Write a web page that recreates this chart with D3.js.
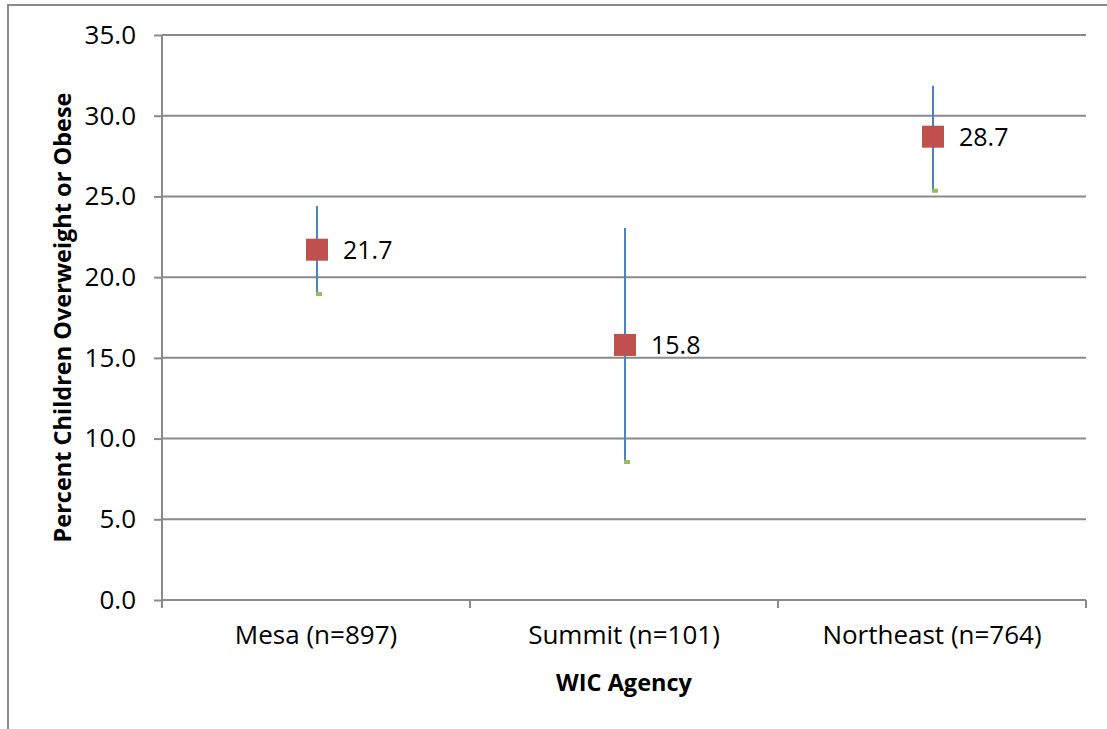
<!DOCTYPE html>
<html><head><meta charset="utf-8">
<script src="https://cdn.jsdelivr.net/npm/d3@7"></script>
<style>body{margin:0;background:#fff}svg{display:block}text{font-family:"Open Sans",sans-serif}</style>
</head><body><svg id="c" width="1107" height="729"></svg>
<script>
const categories = ["Mesa (n=897)", "Summit (n=101)", "Northeast (n=764)"];
const values = [21.7, 15.8, 28.7];
const upper = [24.4, 23.05, 31.85];
const lower = [18.95, 8.55, 25.35];
const yTicks = [0, 5, 10, 15, 20, 25, 30, 35];

const svg = d3.select("#c");
const m = {l:162, r:1086, t:35, b:600};
const x = d3.scaleBand().domain(categories).range([m.l, m.r]);
const y = d3.scaleLinear().domain([0, 35]).range([m.b, m.t]);
const grey = "#8a8a8a";

svg.append("rect").attr("x",8).attr("y",5).attr("width",1120).attr("height",760)
  .attr("fill","none").attr("stroke",grey).attr("stroke-width",2);

// gridlines
svg.append("g").selectAll("line").data(yTicks.filter(d=>d>0)).join("line")
  .attr("x1",m.l).attr("x2",m.r).attr("y1",d=>y(d)).attr("y2",d=>y(d))
  .attr("stroke",grey).attr("stroke-width",2);

// y axis
const ya = svg.append("g").attr("transform",`translate(${m.l},0)`)
  .call(d3.axisLeft(y).tickValues(yTicks).tickFormat(d3.format(".1f")).tickSize(8).tickPadding(18));
ya.select(".domain").attr("stroke",grey).attr("stroke-width",2).attr("d",`M0,${m.t}V${m.b}`);
ya.selectAll(".tick line").attr("stroke",grey).attr("stroke-width",2);
ya.selectAll("text").attr("font-size",26).attr("fill","#000").attr("font-family","Open Sans");

// x axis
const xa = svg.append("g").attr("transform",`translate(0,${m.b})`)
  .call(d3.axisBottom(x).tickSize(0).tickPadding(26));
xa.select(".domain").attr("stroke",grey).attr("stroke-width",2).attr("d",`M${m.l},0H${m.r}`);
xa.selectAll("text").attr("font-size",26).attr("fill","#000").attr("font-family","Open Sans");
const bounds = [m.l, ...categories.map(c=>x(c)+x.bandwidth())];
svg.append("g").selectAll("line").data(bounds).join("line")
  .attr("x1",d=>d).attr("x2",d=>d).attr("y1",m.b).attr("y2",m.b+8)
  .attr("stroke",grey).attr("stroke-width",2);

const cx = c => x(c) + x.bandwidth()/2 + 1;

// error bars
svg.append("g").selectAll("line").data(categories).join("line")
  .attr("x1",cx).attr("x2",cx).attr("y1",(d,i)=>y(upper[i])).attr("y2",(d,i)=>y(lower[i]))
  .attr("stroke","#4F81BD").attr("stroke-width",2);
svg.append("g").selectAll("rect").data(categories).join("rect")
  .attr("x",d=>cx(d)-1).attr("y",(d,i)=>y(lower[i])-2).attr("width",6).attr("height",4)
  .attr("fill","#9BBB59");

// markers
svg.append("g").selectAll("rect").data(categories).join("rect")
  .attr("x",d=>cx(d)-11).attr("y",(d,i)=>y(values[i])-11).attr("width",22).attr("height",22)
  .attr("fill","#C0504D");

svg.append("g").selectAll("text").data(categories).join("text")
  .attr("x",d=>cx(d)+26).attr("y",(d,i)=>y(values[i])).attr("dy","0.36em")
  .attr("font-size",25).text((d,i)=>values[i].toFixed(1));

svg.append("text").attr("transform",`translate(71,${(m.t+m.b)/2}) rotate(-90)`)
  .attr("text-anchor","middle").attr("font-weight","bold").attr("font-size",23.5)
  .text("Percent Children Overweight or Obese");
svg.append("text").attr("x",(m.l+m.r)/2).attr("y",691).attr("text-anchor","middle")
  .attr("font-weight","bold").attr("font-size",23.5).text("WIC Agency");
</script></body></html>
